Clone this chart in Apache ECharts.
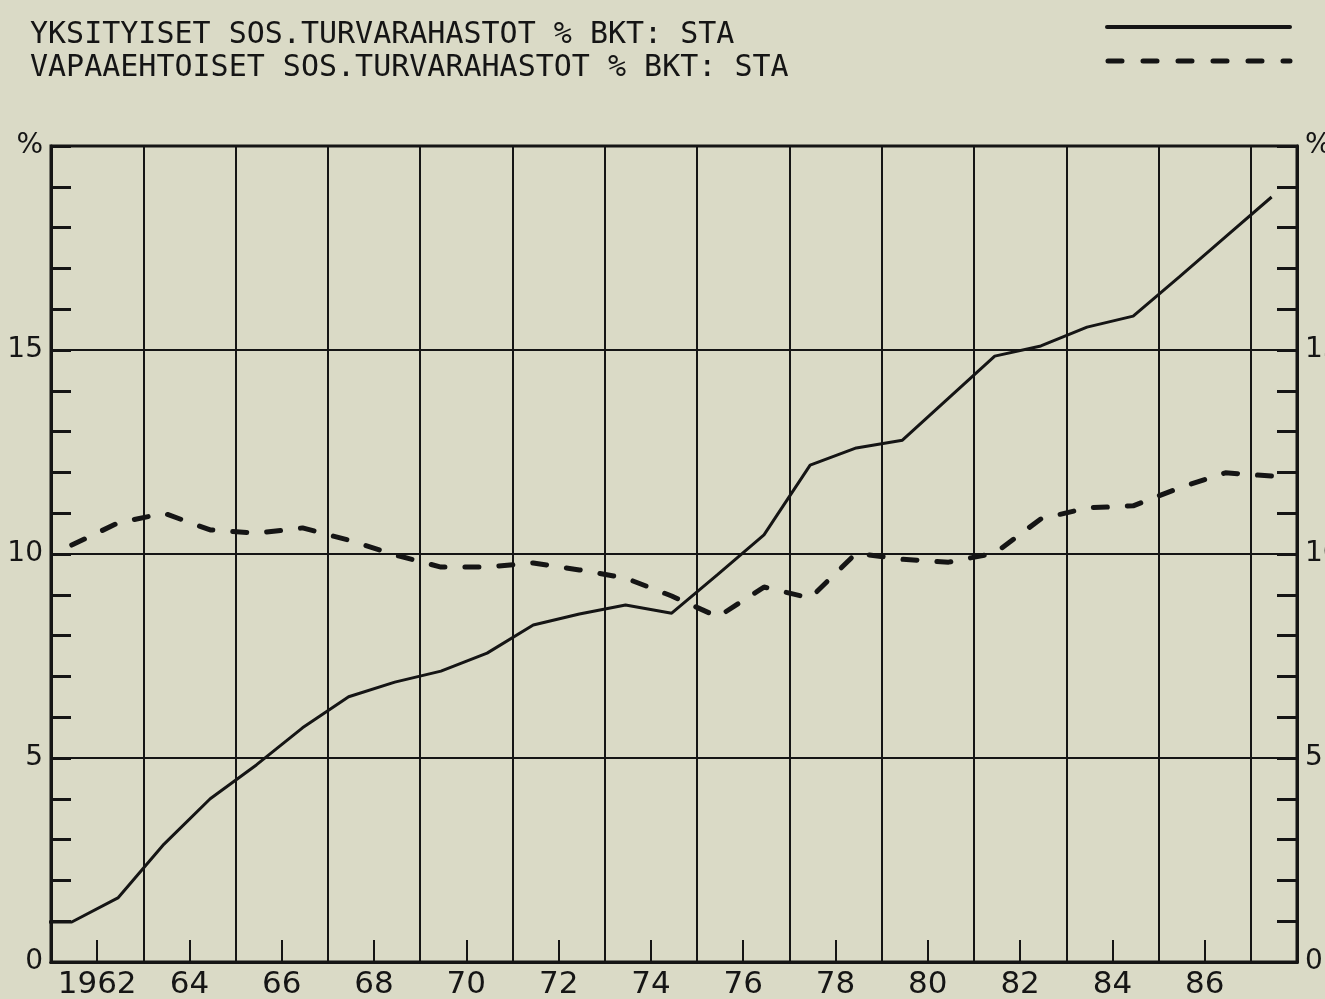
<!DOCTYPE html>
<html>
<head>
<meta charset="utf-8">
<script src="https://cdn.jsdelivr.net/npm/echarts@6/dist/echarts.min.js"></script>
<style>
html,body{margin:0;padding:0;background:#dadac6;}
#c{width:1325px;height:999px;}
</style>
</head>
<body>
<div id="c"></div>
<script>
// ---- data ----
const years = [1960,1961,1962,1963,1964,1965,1966,1967,1968,1969,1970,1971,1972,1973,1974,1975,1976,1977,1978,1979,1980,1981,1982,1983,1984,1985,1986,1987];
const privateFunds = [0.98,0.98,1.57,2.89,4.0,4.83,5.74,6.5,6.86,7.13,7.57,8.26,8.53,8.75,8.55,9.5,10.47,12.18,12.6,12.79,13.82,14.85,15.1,15.56,15.83,16.79,17.77,18.75];
const voluntaryFunds = [null,10.22,10.76,11.0,10.59,10.51,10.64,10.34,9.98,9.68,9.68,9.78,9.61,9.41,8.97,8.46,9.19,8.92,10.02,9.87,9.8,10.02,10.86,11.13,11.18,11.62,11.99,11.91];
const labelYears = [1962,1964,1966,1968,1970,1972,1974,1976,1978,1980,1982,1984,1986];
const seriesNames = ['YKSITYISET SOS.TURVARAHASTOT % BKT: STA','VAPAAEHTOISET SOS.TURVARAHASTOT % BKT: STA'];

const midYear = 0.45;
const ink = '#151515';
const toPts = vals => years.map((y,i)=>[y+midYear, vals[i]]);

const chart = echarts.init(document.getElementById('c'));
const yAxisCommon = {
  type:'value', min:0, max:20, interval:5,
  axisLine:{show:true,lineStyle:{color:ink,width:3}},
  axisTick:{show:true,inside:true,length:20,lineStyle:{color:ink,width:3}},
  minorTick:{show:true,splitNumber:5,length:20,lineStyle:{color:ink,width:3}},
  splitLine:{show:true,lineStyle:{color:ink,width:2}},
  axisLabel:{color:ink,fontFamily:'DejaVu Sans',fontSize:28,margin:8,
    formatter:v=> v===20 ? '%' : String(v)}
};
chart.setOption({
  backgroundColor:'#dadac6',
  animation:false,
  grid:{left:51,right:28,top:146,bottom:37,show:true,borderColor:ink,borderWidth:3,
    containLabel:false,outerBoundsMode:'none'},
  xAxis:[
    {
      type:'value', min:1961, max:1988, interval:2, position:'bottom',
      axisLine:{show:true,lineStyle:{color:ink,width:3}},
      axisTick:{show:false},
      axisLabel:{show:false},
      splitLine:{show:true,lineStyle:{color:ink,width:2}}
    },
    {
      type:'value', min:1961, max:1988, position:'bottom', offset:0,
      axisLine:{show:true,lineStyle:{color:ink,width:3}},
      axisTick:{show:true,inside:true,length:22,customValues:labelYears,lineStyle:{color:ink,width:2}},
      splitLine:{show:false},
      axisLabel:{color:ink,fontFamily:'DejaVu Sans',fontSize:31,margin:7,customValues:labelYears,
        formatter:v=> v===1962 ? '1962' : String(v).slice(2)}
    }
  ],
  yAxis:[
    Object.assign({position:'left'}, yAxisCommon),
    Object.assign({position:'right'}, yAxisCommon)
  ],
  series:[
    {name:seriesNames[0],type:'line',xAxisIndex:0,data:toPts(privateFunds),symbol:'none',clip:true,
      lineStyle:{color:ink,width:3}},
    {name:seriesNames[1],type:'line',xAxisIndex:0,data:toPts(voluntaryFunds),symbol:'none',clip:true,
      lineStyle:{color:ink,width:5,type:[14,20],cap:'round'}}
  ],
  graphic:[
    {type:'text',left:30,top:20,style:{text:seriesNames[0],fill:ink,font:'30px "DejaVu Sans Mono"'}},
    {type:'text',left:30,top:53,style:{text:seriesNames[1],fill:ink,font:'30px "DejaVu Sans Mono"'}},
    {type:'line',shape:{x1:1107,y1:27,x2:1290,y2:27},style:{stroke:ink,lineWidth:4,lineCap:'round'}},
    {type:'line',shape:{x1:1108,y1:61,x2:1290,y2:61},style:{stroke:ink,lineWidth:5,lineDash:[14,21],lineCap:'round'}}
  ]
});
</script>
</body>
</html>
